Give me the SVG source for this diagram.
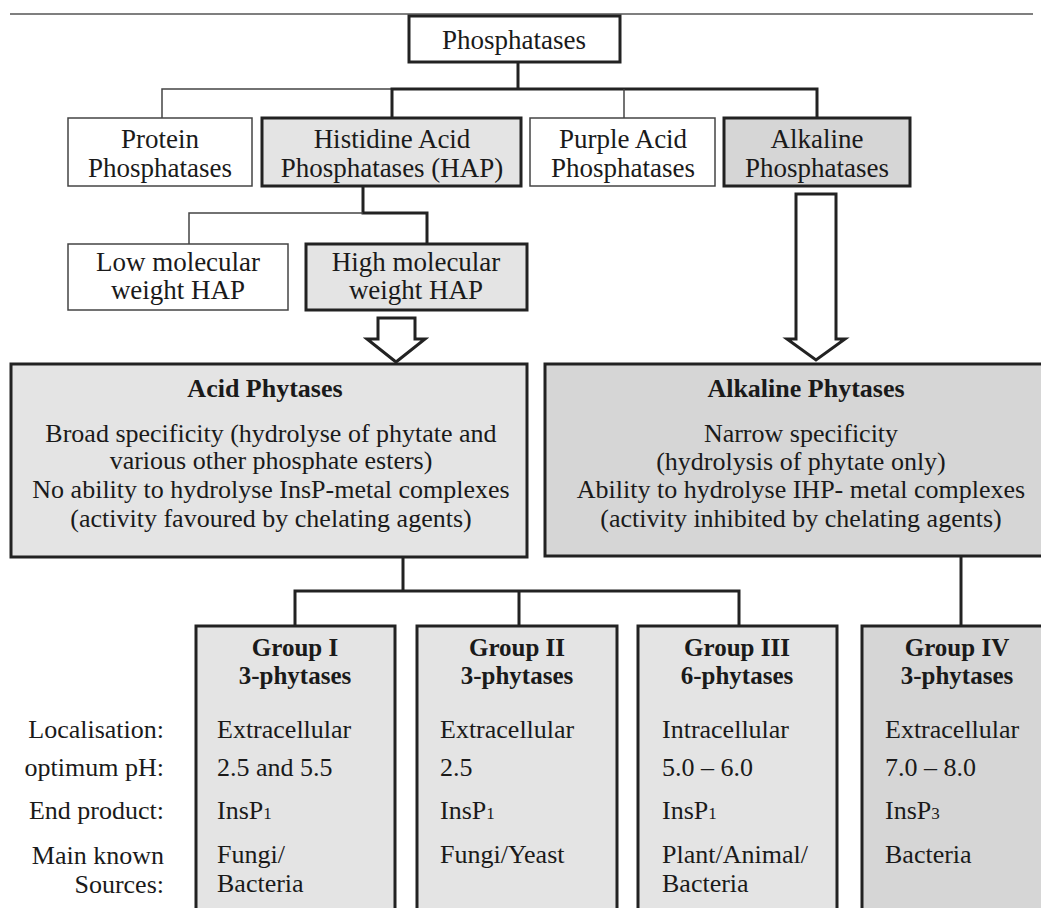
<svg xmlns="http://www.w3.org/2000/svg" width="1041" height="908" viewBox="0 0 1041 908">
<style>
text{font-family:"Liberation Serif","Times New Roman",serif;font-size:26px;fill:#1a1a1a}
.c{text-anchor:middle}
.r{text-anchor:end}
.b{font-weight:bold}
.h{font-weight:bold;font-size:25px}
.big{font-size:27px}
.thin{fill:#fff;stroke:#444;stroke-width:1.5}
.thick{stroke:#222;stroke-width:3}
.g1{fill:#e4e4e4}
.g2{fill:#d6d6d6}
.ln{fill:none;stroke:#222;stroke-width:3}
.lt{fill:none;stroke:#444;stroke-width:1.5}
.arrow{fill:#fff;stroke:#222;stroke-width:3;stroke-linejoin:miter}
.sub{font-size:17px}
</style>
<line x1="10" y1="14" x2="1033" y2="14" stroke="#555" stroke-width="1.5"/>
<g id="connectors">
<path class="ln" d="M518 62V89"/>
<path class="lt" d="M162 118V89H392"/>
<path class="ln" d="M392 118V89H817V118"/>
<path class="lt" d="M624 89V118"/>
<path class="ln" d="M363 186V213H427V244"/>
<path class="lt" d="M363 213H189V244"/>
<path class="arrow" d="M378 318H415V339H425L396 362L367 339H378Z"/>
<path class="arrow" d="M796 194H836V339H845L816 360L787 339H796Z"/>
<path class="ln" d="M403 557V591M295 627V591H739V627M519 591V627"/>
<path class="ln" d="M961 556V627"/>
</g>
<g id="n-phosphatases">
<rect x="409" y="16" width="211" height="46" class="thick" fill="#fff"/>
<text x="514" y="49" class="c big">Phosphatases</text>
</g>
<g id="n-protein">
<rect x="68" y="118" width="184" height="68" class="thin"/>
<text x="160" y="148" class="c big">Protein</text>
<text x="160" y="177" class="c big">Phosphatases</text>
</g>
<g id="n-hap">
<rect x="262" y="118" width="259" height="68" class="thick g1"/>
<text x="392" y="148" class="c big">Histidine Acid</text>
<text x="392" y="177" class="c big">Phosphatases (HAP)</text>
</g>
<g id="n-purple">
<rect x="530" y="118" width="185" height="68" class="thin"/>
<text x="623" y="148" class="c big">Purple Acid</text>
<text x="623" y="177" class="c big">Phosphatases</text>
</g>
<g id="n-alkaline-phosphatases">
<rect x="724" y="118" width="186" height="68" class="thick g2"/>
<text x="817" y="148" class="c big">Alkaline</text>
<text x="817" y="177" class="c big">Phosphatases</text>
</g>
<g id="n-low">
<rect x="68" y="244" width="220" height="66" class="thin"/>
<text x="178" y="271" class="c big">Low molecular</text>
<text x="178" y="299" class="c big">weight HAP</text>
</g>
<g id="n-high">
<rect x="306" y="244" width="221" height="66" class="thick g1"/>
<text x="416" y="271" class="c big">High molecular</text>
<text x="416" y="299" class="c big">weight HAP</text>
</g>
<g id="n-acid-phytases">
<rect x="11" y="364" width="516" height="193" class="thick g1"/>
<text x="265" y="397" class="c b">Acid Phytases</text>
<text x="271" y="442" class="c">Broad specificity (hydrolyse of phytate and</text>
<text x="271" y="469" class="c">various other phosphate esters)</text>
<text x="271" y="498" class="c">No ability to hydrolyse InsP-metal complexes</text>
<text x="271" y="527" class="c">(activity favoured by chelating agents)</text>
</g>
<g id="n-alkaline-phytases">
<rect x="545" y="364" width="505" height="192" class="thick g2"/>
<text x="806" y="397" class="c b">Alkaline Phytases</text>
<text x="801" y="442" class="c">Narrow specificity</text>
<text x="801" y="470" class="c">(hydrolysis of phytate only)</text>
<text x="801" y="498" class="c">Ability to hydrolyse IHP- metal complexes</text>
<text x="801" y="527" class="c">(activity inhibited by chelating agents)</text>
</g>
<g id="n-labels">
<text x="164" y="738" class="r">Localisation:</text>
<text x="164" y="776" class="r">optimum pH:</text>
<text x="164" y="819" class="r">End product:</text>
<text x="164" y="864" class="r">Main known</text>
<text x="164" y="893" class="r">Sources:</text>
</g>
<g id="n-group1">
<rect x="196" y="626" width="199" height="300" class="thick g1"/>
<text x="295" y="656" class="c h">Group I</text>
<text x="295" y="684" class="c h">3-phytases</text>
<text x="217" y="738">Extracellular</text>
<text x="217" y="776">2.5 and 5.5</text>
<text x="217" y="819">InsP<tspan class="sub">1</tspan></text>
<text x="217" y="863">Fungi/</text>
<text x="217" y="892">Bacteria</text>
</g>
<g id="n-group2">
<rect x="417" y="626" width="200" height="300" class="thick g1"/>
<text x="517" y="656" class="c h">Group II</text>
<text x="517" y="684" class="c h">3-phytases</text>
<text x="440" y="738">Extracellular</text>
<text x="440" y="776">2.5</text>
<text x="440" y="819">InsP<tspan class="sub">1</tspan></text>
<text x="440" y="863">Fungi/Yeast</text>
</g>
<g id="n-group3">
<rect x="638" y="626" width="199" height="300" class="thick g1"/>
<text x="737" y="656" class="c h">Group III</text>
<text x="737" y="684" class="c h">6-phytases</text>
<text x="662" y="738">Intracellular</text>
<text x="662" y="776">5.0 – 6.0</text>
<text x="662" y="819">InsP<tspan class="sub">1</tspan></text>
<text x="662" y="863">Plant/Animal/</text>
<text x="662" y="892">Bacteria</text>
</g>
<g id="n-group4">
<rect x="862" y="626" width="200" height="300" class="thick g2"/>
<text x="957" y="656" class="c h">Group IV</text>
<text x="957" y="684" class="c h">3-phytases</text>
<text x="885" y="738">Extracellular</text>
<text x="885" y="776">7.0 – 8.0</text>
<text x="885" y="819">InsP<tspan class="sub">3</tspan></text>
<text x="885" y="863">Bacteria</text>
</g>
</svg>
